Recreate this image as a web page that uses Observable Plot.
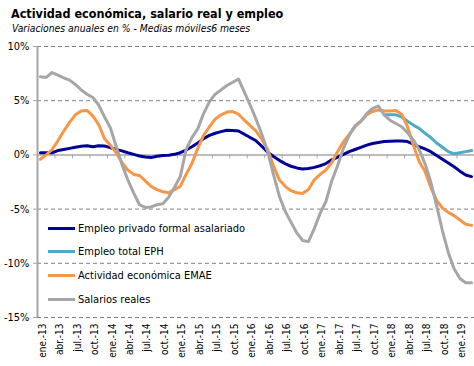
<!DOCTYPE html>
<html><head><meta charset="utf-8">
<script src="https://cdn.jsdelivr.net/npm/d3@7"></script>
<script src="https://cdn.jsdelivr.net/npm/@observablehq/plot@0.6"></script>
<style>
html,body{margin:0;padding:0;background:#fff}
#wrap{position:relative;width:474px;height:366px;overflow:hidden;font-family:"DejaVu Sans",sans-serif;font-stretch:condensed;color:#000}
#title{position:absolute;left:11px;top:6px;font-weight:bold;font-size:12.5px;white-space:nowrap}
#sub{position:absolute;left:12px;top:22px;font-style:italic;font-size:10.3px;white-space:nowrap}
#chart{position:absolute;left:0;top:38px}
#legend{position:absolute;left:48px;top:216.5px}
.row{height:23.6px;display:flex;align-items:center;font-size:11px;white-space:nowrap}
.sw{display:inline-block;width:27px;height:3px;margin-right:3px}
</style></head>
<body><div id="wrap">
<div id="title">Actividad económica, salario real y empleo</div>
<div id="sub">Variaciones anuales en % - Medias móviles6 meses</div>
<div id="chart"></div>
<div id="legend"></div>
</div>
<script>
const tickLabels = ["ene.-13","abr.-13","jul.-13","oct.-13","ene.-14","abr.-14","jul.-14","oct.-14","ene.-15","abr.-15","jul.-15","oct.-15","ene.-16","abr.-16","jul.-16","oct.-16","ene.-17","abr.-17","jul.-17","oct.-17","ene.-18","abr.-18","jul.-18","oct.-18","ene.-19"];
const nMonths = 75; // ene.-13 .. mar.-19
const yTicks = [10, 5, 0, -5, -10, -15];

const empleoPrivado = [0.2,0.2,0.2,0.4,0.5,0.6,0.7,0.8,0.85,0.75,0.85,0.82,0.67,0.5,0.37,0.2,0.05,-0.1,-0.2,-0.25,-0.12,-0.05,-0.03,0.05,0.2,0.45,0.75,1.1,1.5,1.8,2.0,2.15,2.27,2.25,2.2,1.9,1.6,1.3,0.8,0.25,-0.15,-0.5,-0.8,-1.05,-1.2,-1.3,-1.25,-1.15,-1.0,-0.8,-0.45,-0.2,0.05,0.3,0.5,0.7,0.9,1.05,1.15,1.23,1.27,1.29,1.28,1.23,1.0,0.75,0.55,0.3,-0.05,-0.4,-0.75,-1.1,-1.5,-1.85,-2.0];
const empleoEPHStart = 59;
const empleoEPH = [3.7,3.7,3.7,3.5,3.1,2.75,2.45,2.0,1.6,1.1,0.7,0.3,0.1,0.2,0.3,0.4];
const emae = [-0.4,0.0,0.5,1.3,2.2,3.0,3.7,4.05,4.1,3.6,2.8,1.5,0.9,0.2,-0.7,-1.4,-1.8,-1.9,-2.4,-2.9,-3.2,-3.4,-3.5,-3.2,-2.9,-1.8,-0.8,0.6,1.8,2.6,3.3,3.7,3.95,4.0,3.75,3.2,2.7,2.2,1.45,0.5,-1.0,-2.3,-2.9,-3.3,-3.5,-3.55,-3.2,-2.3,-1.8,-1.4,-0.7,0.3,1.2,1.9,2.6,3.1,3.7,4.0,4.15,4.05,4.05,4.1,3.75,2.6,0.9,-0.6,-1.5,-3.0,-4.2,-4.9,-5.3,-5.6,-6.0,-6.4,-6.5];
const salarios = [7.2,7.15,7.6,7.35,7.1,6.9,6.5,6.0,5.6,5.3,4.6,3.5,2.5,0.8,-0.9,-2.3,-3.5,-4.6,-4.85,-4.8,-4.6,-4.5,-3.9,-3.0,-2.0,0.5,1.6,2.4,3.8,4.9,5.6,6.0,6.4,6.7,7.0,5.8,4.6,3.3,1.9,0.3,-1.8,-3.8,-5.2,-6.2,-7.2,-7.9,-8.0,-6.8,-5.4,-4.3,-2.4,-1.0,0.6,1.8,2.7,3.1,3.8,4.3,4.5,3.7,3.2,2.9,2.6,2.05,1.4,0.5,-0.8,-2.5,-4.7,-7.0,-9.0,-10.5,-11.4,-11.8,-11.8];

const seriesNames = ["Empleo privado formal asalariado","Empleo total EPH","Actividad económica EMAE","Salarios reales"];
const seriesColors = ["#000096","#4BACC6","#F79646","#A6A6A6"];
const seriesValues = [empleoPrivado, empleoEPH, emae, salarios];
const seriesStart = [0, empleoEPHStart, 0, 0];

const rowsFor = k => seriesValues[k].map((v, j) => ({i: j + seriesStart[k], v}));
const tickIdx = tickLabels.map((_, k) => k * 3);
const bounds = d3.range(0, nMonths + 1, 3).map(b => b - 0.5);

const font = '"DejaVu Sans", sans-serif';
const chart = Plot.plot({
  width: 474, height: 328,
  marginTop: 8, marginBottom: 49, marginLeft: 37, marginRight: 0,
  style: {fontFamily: font, fontStretch: "condensed", background: "#fff", overflow: "visible"},
  x: {type: "linear", domain: [-0.5, nMonths - 0.5], axis: null, label: null},
  y: {domain: [-15, 10], axis: null, label: null},
  marks: [
    Plot.ruleY(yTicks.filter(t => t !== 0), {stroke: "#808080", strokeWidth: 1, strokeDasharray: "4,3"}),
    Plot.ruleY([0], {stroke: "#A6A6A6", strokeWidth: 1.5}),
    Plot.ruleX(bounds, {y1: 0, y2: 0, insetBottom: -4, stroke: "#A6A6A6", strokeWidth: 1}),
    Plot.ruleY(yTicks, {x1: -0.5, x2: -0.5, insetLeft: -4, stroke: "#A6A6A6", strokeWidth: 1}),
    Plot.ruleX([-0.5], {y1: -15, y2: 10, stroke: "#A6A6A6", strokeWidth: 2}),
    Plot.axisY({ticks: yTicks, tickSize: 0, tickPadding: 8, tickFormat: d => `${d}%`, anchor: "left", fill: "#000", fontSize: 11, label: null}),
    Plot.text(tickIdx, {x: d => d, frameAnchor: "bottom", text: (d, k) => tickLabels[k], rotate: -90, textAnchor: "end", lineAnchor: "middle", dy: 6, dx: 2, fontSize: 10, fill: "#000"}),
    ...seriesValues.map((_, k) => Plot.line(rowsFor(k), {x: "i", y: "v", stroke: seriesColors[k], strokeWidth: 3, strokeLinejoin: "round"}))
  ]
});
document.getElementById("chart").append(chart);

const leg = document.getElementById("legend");
seriesNames.forEach((name, k) => {
  const r = document.createElement("div");
  r.className = "row";
  const s = document.createElement("span");
  s.className = "sw";
  s.style.background = seriesColors[k];
  r.append(s, document.createTextNode(name));
  leg.append(r);
});
</script>
</body></html>
